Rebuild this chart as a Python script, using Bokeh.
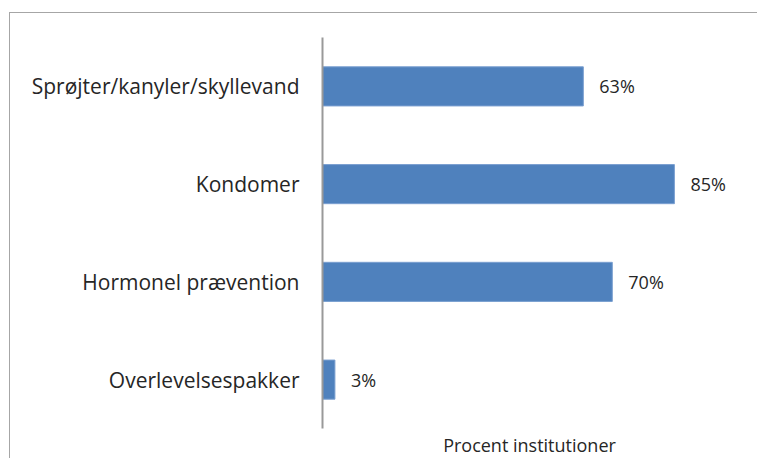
from bokeh.plotting import figure
from bokeh.models import ColumnDataSource, FactorRange, Range1d
from bokeh.core.properties import value
from bokeh.embed import file_html
from bokeh.resources import INLINE

categories = ["Sprøjter/kanyler/skyllevand", "Kondomer", "Hormonel prævention", "Overlevelsespakker"]
values = [63, 85, 70, 3]
labels = [f"{v}%" for v in values]
x_axis_label = "Procent institutioner"

FONT = "Open Sans"
BLUE = "#4F81BD"
TEXT = "#262626"

# reverse so first category is at top
y_factors = list(reversed(categories))

src = ColumnDataSource(dict(cat=categories, val=values, lab=labels))

p = figure(
    width=748, height=446,
    y_range=FactorRange(factors=y_factors),
    x_range=Range1d(0, 100),
    output_backend="svg", toolbar_location=None,
    min_border_left=312, min_border_top=24, min_border_right=22, min_border_bottom=28,
    styles={"margin-left": "10px", "margin-top": "13px",
            "box-shadow": "-1px -1px 0px 0px #a6a6a6"},
)
p.outline_line_color = None
p.grid.grid_line_color = None

p.hbar(y="cat", right="val", left=0, height=0.4, source=src,
       fill_color=BLUE, line_color="#7A9FD0", line_width=1)

p.text(x="val", y="cat", text="lab", source=src, x_offset=16,
       text_font=value(FONT), text_font_size="18px", text_color=TEXT,
       text_baseline="middle", text_align="left")

# y axis: categories
p.yaxis.axis_line_color = "#999999"
p.yaxis.axis_line_width = 2
p.yaxis.major_tick_line_color = None
p.yaxis.minor_tick_line_color = None
p.yaxis.major_tick_out = 0
p.yaxis.major_label_text_font = FONT
p.yaxis.major_label_text_font_size = "21px"
p.yaxis.major_label_text_color = TEXT
p.yaxis.major_label_standoff = 23

# x axis: only label
p.xaxis.ticker = []
p.xaxis.axis_line_color = None
p.xaxis.major_tick_line_color = None
p.xaxis.minor_tick_line_color = None
p.xaxis.major_tick_out = 0
p.xaxis.major_tick_in = 0
p.xaxis.major_label_standoff = 0
p.xaxis.axis_label = x_axis_label
p.xaxis.axis_label_text_font = FONT
p.xaxis.axis_label_text_font_size = "18px"
p.xaxis.axis_label_text_font_style = "normal"
p.xaxis.axis_label_text_color = TEXT
p.xaxis.axis_label_standoff = 4

open("out.html", "w").write(file_html(p, INLINE))
